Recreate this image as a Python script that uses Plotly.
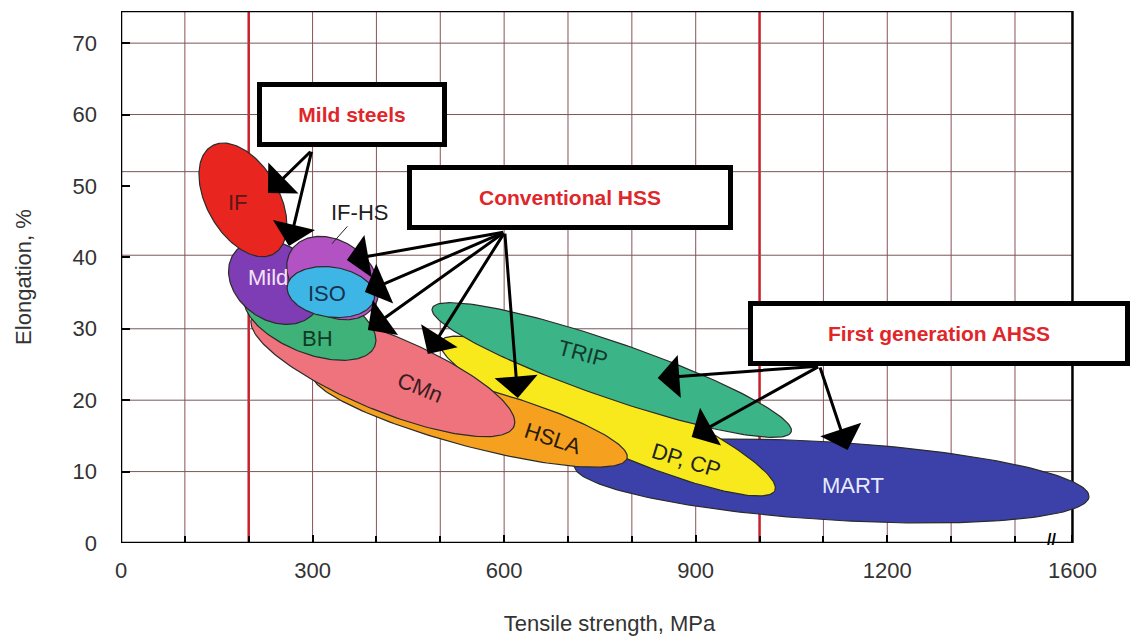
import numpy as np
import plotly.graph_objects as go

# ---------------- data ----------------
grades = ["MART", "DP, CP", "TRIP", "HSLA", "CMn", "BH", "Mild", "IF-HS", "ISO", "IF"]
# end points of each banana's long axis (tensile strength MPa, elongation %)
ts_low = [709.8, 500.5, 487.4, 299.9, 204.7, 194.2, 176.9, 267.6, 260.4, 142.4]
el_high = [10.88, 28.2, 32.89, 23.69, 31.54, 34.89, 40.56, 41.12, 36.0, 55.6]
ts_high = [1515.9, 1024.0, 1049.6, 792.6, 615.4, 397.4, 305.2, 396.0, 396.9, 239.5]
el_low = [6.48, 7.36, 15.55, 11.87, 16.34, 27.55, 32.52, 33.08, 34.28, 40.5]
el_halfwidth = [5.46, 4.48, 3.92, 4.2, 5.32, 4.62, 5.32, 5.18, 3.5, 5.04]

# label positions (MPa, %)
label_text = ["MART", "DP, CP", "TRIP", "HSLA", "CMn", "BH", "Mild", "ISO", "IF"]
label_x = [1146, 886, 723, 676, 468, 307, 230, 322, 183]
label_y = [8.1, 11.6, 26.6, 14.7, 21.8, 28.7, 37.2, 35.0, 47.7]
label_angle = [0, 17, 15, 18, 22, 0, 0, 0, 0]

# callout boxes and arrows (MPa, %)
box_text = ["Mild steels", "Conventional HSS", "First generation AHSS"]
box_x = [361.6, 702.8, 1280.3]
box_y = [60.0, 48.37, 29.4]
arrow_tail_x = [298.9, 601.0, 1094.0]
arrow_tail_y = [55.0, 43.54, 24.78]
arrow_tips_x = [[230.1, 263.0], [353.7, 381.9, 386.6, 480.5, 621.4], [840.5, 893.7, 1137.9]]
arrow_tips_y = [[49.0, 41.58], [39.62, 35.14, 29.82, 26.46, 20.3], [23.1, 14.84, 13.02]]

ifhs_label = ("IF-HS", 374.0, 46.3, 330.3, 41.9)

x_tickvals = [0, 300, 600, 900, 1200, 1490]
x_ticktext = ["0", "300", "600", "900", "1200", "1600"]
y_tickvals = [0, 10, 20, 30, 40, 50, 60, 70]

# ---------------- style ----------------
fill_colors = ["#3C41AA", "#F7E91C", "#3BB488", "#F5A01E", "#EE737D",
               "#3FB27A", "#7E3DB5", "#B352C2", "#3DB6E6", "#E8251F"]
label_colors = ["#E8EAFF", "#222222", "#123A2C", "#2A1A08", "#3A1C20",
                "#0F3B25", "#F5E3F7", "#17324D", "#5E1616"]

W, H = 1132, 638
ML, MR, MT, MB = 121, 33.5, 11, 95
X_MAX, Y_MAX = 1530, 74.5
FRAME_X = 1490
sx = (W - ML - MR) / X_MAX
sy = (H - MT - MB) / Y_MAX


def ellipse(x0, y0, x1, y1, hw, n=200):
    u0, v0, u1, v1 = x0 * sx, y0 * sy, x1 * sx, y1 * sy
    cu, cv = (u0 + u1) / 2, (v0 + v1) / 2
    a = np.hypot(u1 - u0, v1 - v0) / 2
    th = np.arctan2(v1 - v0, u1 - u0)
    b = hw * sy
    t = np.linspace(0, 2 * np.pi, n)
    u = cu + a * np.cos(t) * np.cos(th) - b * np.sin(t) * np.sin(th)
    v = cv + a * np.cos(t) * np.sin(th) + b * np.sin(t) * np.cos(th)
    return u / sx, v / sy


fig = go.Figure()
for i, g in enumerate(grades):
    xs, ys = ellipse(ts_low[i], el_high[i], ts_high[i], el_low[i], el_halfwidth[i])
    fig.add_trace(go.Scatter(
        x=xs, y=ys, mode="lines", fill="toself", fillcolor=fill_colors[i],
        line=dict(color="#2B2B2B", width=1.2), hoverinfo="skip",
        showlegend=False, name=g))

FONT = "Liberation Sans, Arial, sans-serif"
ann = []
for t, x, y, a, c in zip(label_text, label_x, label_y, label_angle, label_colors):
    ann.append(dict(x=x, y=y, xref="x", yref="y", text=t, showarrow=False,
                    textangle=a, font=dict(family=FONT, size=22, color=c)))

# IF-HS leader
t, lx, ly, px, py = ifhs_label
ann.append(dict(x=px, y=py, xref="x", yref="y", ax=lx, ay=ly, axref="x", ayref="y",
                text=t, showarrow=True, arrowhead=0, arrowwidth=1, arrowcolor="#222",
                standoff=0, font=dict(family=FONT, size=22, color="#1E1E1E")))

# arrows
for k in range(3):
    for tx, ty in zip(arrow_tips_x[k], arrow_tips_y[k]):
        ann.append(dict(x=tx, y=ty, xref="x", yref="y", ax=arrow_tail_x[k], ay=arrow_tail_y[k],
                        axref="x", ayref="y", text="", showarrow=True, arrowhead=1,
                        arrowsize=2.4, arrowwidth=3, arrowcolor="black", standoff=0,
                        startstandoff=0))

# boxes
box_w = [180, 316, 372]
for t, x, y, w in zip(box_text, box_x, box_y, box_w):
    ann.append(dict(x=x, y=y, xref="x", yref="y", text="<b>%s</b>" % t, showarrow=False,
                    width=w, height=55, bgcolor="white", bordercolor="black",
                    borderwidth=5, borderpad=0, align="center", valign="middle",
                    font=dict(family=FONT, size=21, color="#E0262B")))

# axis break mark
ann.append(dict(x=1457, y=0, xref="x", yref="y", text="<b>//</b>", showarrow=False,
                yshift=4, font=dict(family=FONT, size=16, color="black")))

# graph-paper grid
shapes = []
for gx in range(100, 1500, 100):
    red = gx in (200, 1000)
    shapes.append(dict(type="line", xref="x", yref="y", x0=gx, x1=gx, y0=0, y1=Y_MAX,
                       layer="below",
                       line=dict(color="#C8202C" if red else "#8A5258", width=2.5 if red else 1)))
for gy in [10, 20, 30, 40.3, 52, 60, 70]:
    shapes.append(dict(type="line", xref="x", yref="y", x0=0, x1=FRAME_X, y0=gy, y1=gy,
                       layer="below", line=dict(color="#7A5656", width=1)))
shapes.append(dict(type="rect", xref="x", yref="y", x0=0, x1=FRAME_X, y0=0, y1=Y_MAX,
                   layer="below", line=dict(color="black", width=2.5)))

fig.update_layout(
    width=W, height=H,
    margin=dict(l=ML, r=MR, t=MT, b=MB, pad=0),
    paper_bgcolor="white", plot_bgcolor="white",
    font=dict(family=FONT, size=22, color="#333333"),
    annotations=ann, shapes=shapes,
    xaxis=dict(range=[0, X_MAX], showgrid=False, zeroline=False, showline=False,
               tickmode="array", tickvals=x_tickvals, ticktext=x_ticktext,
               ticks="inside", ticklen=8, tickwidth=2, tickcolor="black",
               ticklabelstandoff=12, automargin=False,
               tickfont=dict(family=FONT, size=22, color="#333333"),
               minor=dict(tickmode="array", tickvals=list(range(100, 1500, 100)),
                          ticks="inside", ticklen=7, tickwidth=2, tickcolor="black",
                          showgrid=False),
               title=dict(text="Tensile strength, MPa", standoff=33,
                          font=dict(family=FONT, size=22, color="#333333"))),
    yaxis=dict(range=[0, Y_MAX], showgrid=False, zeroline=False, showline=False,
               tickmode="array", tickvals=y_tickvals,
               ticks="inside", ticklen=9, tickwidth=2, tickcolor="black",
               ticklabelstandoff=23, automargin=False,
               tickfont=dict(family=FONT, size=22, color="#333333"),
               title=dict(text="Elongation, %", standoff=34,
                          font=dict(family=FONT, size=22, color="#333333"))),
)

fig.write_html("out.html", config={"displayModeBar": False},
               post_script="document.body.style.margin='0px';")
